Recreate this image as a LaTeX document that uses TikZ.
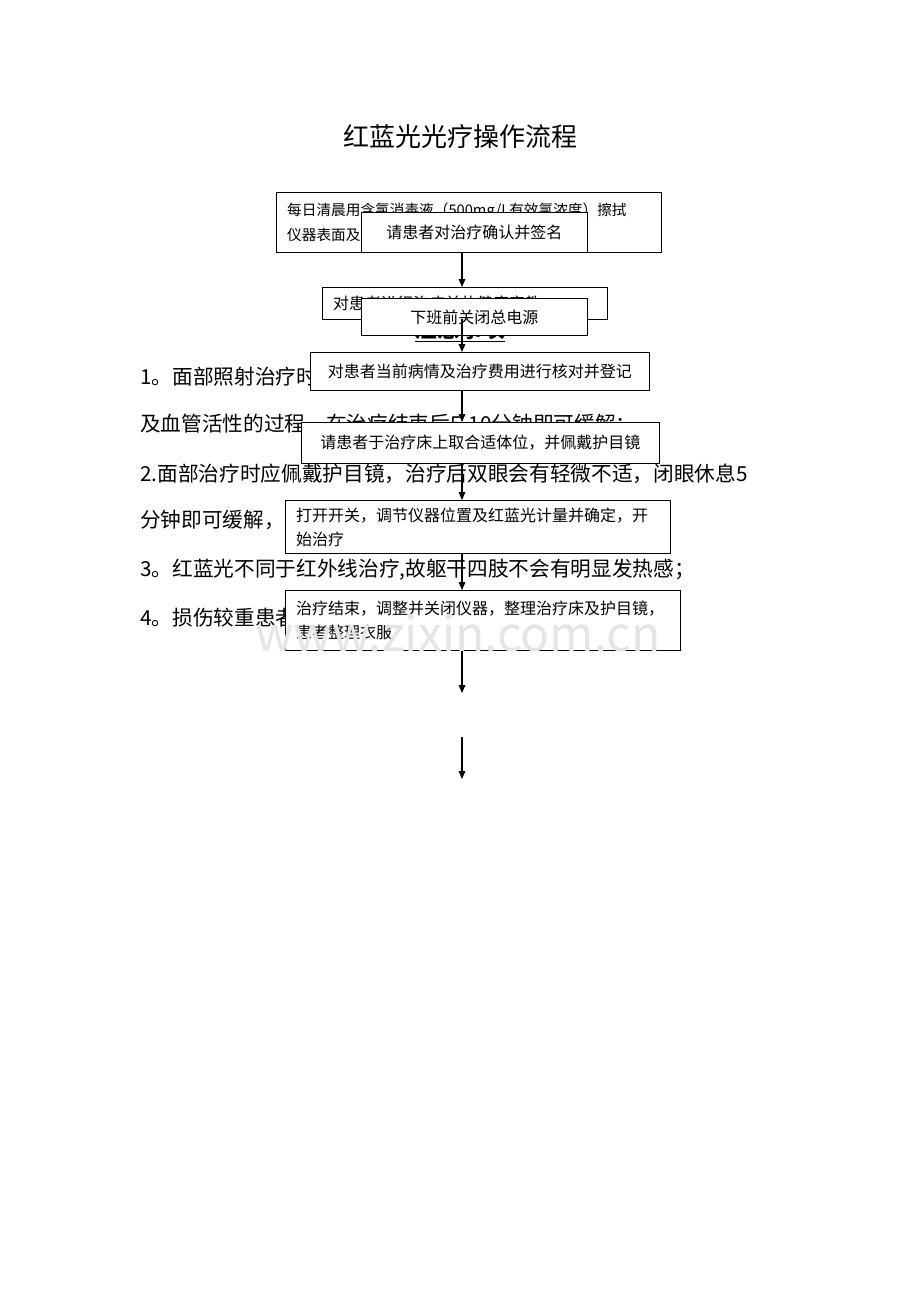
\documentclass[tikz,border=0pt]{standalone}
\usepackage{fontspec}
\setmainfont{Noto Sans CJK SC}
\usetikzlibrary{arrows.meta}
\tikzset{box/.style={draw, fill=white, anchor=north west, inner ysep=0pt, align=center, font=\fontsize{12}{18}\selectfont, line width=0.8pt},
	 lbox/.style={box, align=left, inner xsep=8pt},
	 body/.style={anchor=west, inner sep=0pt, font=\fontsize{15.5}{18}\selectfont},
	 flow/.style={-{Triangle[length=6pt, width=5pt]}, line width=0.8pt}}

\begin{document}
\begin{tikzpicture}[x=0.75pt, y=-0.75pt]
	\useasboundingbox (0,0) rectangle (920,1302);
	
	% Title
	\node[font=\fontsize{19.5}{22}\selectfont] (title) at (460,137) {红蓝光光疗操作流程};
	
	% Notes under the chart
	\node[font=\bfseries\fontsize{17}{20}\selectfont] (notes) at (460,330) {\underline{注意事项}};
	\node[body] (n1) at (140,378) {1。面部照射治疗时局部有轻微发热及瘙痒,为活化细胞};
	\node[body] (n1b) at (140,424) {及血管活性的过程，在治疗结束后5-10分钟即可缓解；};
	\node[body] (n2) at (140,474) {2.面部治疗时应佩戴护目镜，治疗后双眼会有轻微不适，闭眼休息5};
	\node[body] (n2b) at (140,520) {分钟即可缓解，无需处理；};
	\node[body] (n3) at (140,570) {3。红蓝光不同于红外线治疗,故躯干四肢不会有明显发热感；};
	\node[body] (n4) at (140,618) {4。损伤较重患者需待皮肤屏障修复后方可进行治疗.};
	
	% Boxes
	\node[lbox, text width=273pt, minimum height=45pt, font=\fontsize{11}{19}\selectfont] (clean) at (276,192)
		{每日清晨用含氯消毒液（500mg/L有效氯浓度）擦拭\\仪器表面及治疗床，保持室内清洁};
	\node[box, text width=162.75pt, minimum height=30pt] (sign) at (361,212) {请患者对治疗确认并签名};
	\node[lbox, text width=198pt, minimum height=24pt] (edu) at (322,287) {对患者进行治疗前的健康宣教};
	\node[box, text width=162.75pt, minimum height=27.75pt] (power) at (361,298) {下班前关闭总电源};
	\node[box, text width=247.5pt, minimum height=28.5pt] (check) at (310,352) {对患者当前病情及治疗费用进行核对并登记};
	\node[box, text width=261.75pt, minimum height=30.75pt] (pose) at (301,422) {请患者于治疗床上取合适体位，并佩戴护目镜};
	\node[lbox, text width=272.75pt, minimum height=39.75pt] (start) at (285,500)
		{打开开关，调节仪器位置及红蓝光计量并确定，开\\始治疗};
	\node[lbox, text width=280.25pt, minimum height=45pt] (finish) at (285,590)
		{治疗结束，调整并关闭仪器，整理治疗床及护目镜，\\患者整理衣服};
	
	% Watermark
	\node[text=black!10, font=\fontsize{36}{40}\selectfont] (mark) at (458,633) {www.zixin.com.cn};
	
	% Arrows
	\coordinate (a1) at (462,693);
	\coordinate (a2) at (462,737);
	\coordinate (a3) at (462,779);
	\draw[flow] (462,252) -- (edu.north -| 462,0);
	\draw[flow] (462,319) -- (check.north -| 462,0);
	\draw[flow] (462,390) -- (pose.north -| 462,0);
	\draw[flow] (462,463) -- (start.north -| 462,0);
	\draw[flow] (462,553) -- (finish.north -| 462,0);
	\draw[flow] (finish.south -| a1) -- (a1);
	\draw[flow] (a2) -- (a3);
\end{tikzpicture}
\end{document}
